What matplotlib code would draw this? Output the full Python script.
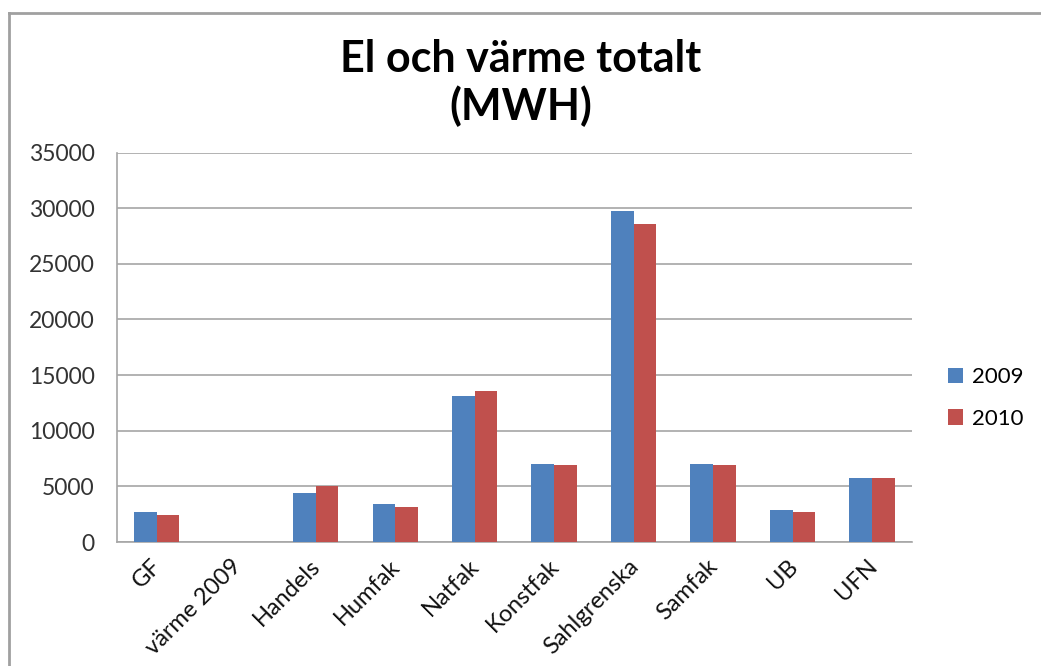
import matplotlib
matplotlib.use("Agg")
import matplotlib.pyplot as plt
from matplotlib.lines import Line2D
import numpy as np

plt.rcParams['font.family'] = ['Lato', 'DejaVu Sans']

categories = ["GF", "värme 2009", "Handels", "Humfak", "Natfak", "Konstfak",
              "Sahlgrenska", "Samfak", "UB", "UFN"]
vals_2009 = [2700, 0, 4400, 3450, 13100, 7050, 29750, 7000, 2850, 5800]
vals_2010 = [2450, 0, 5000, 3200, 13550, 6950, 28550, 6900, 2680, 5800]
series_names = ["2009", "2010"]

fig = plt.figure(figsize=(10.41, 6.66), dpi=100)
ax = fig.add_axes([0.1124, 0.186, 0.7636, 0.585])

x = np.arange(len(categories))
w = 0.2857
ax.bar(x - w / 2, vals_2009, w, color='#4f81bd', label=series_names[0], zorder=3)
ax.bar(x + w / 2, vals_2010, w, color='#c0504d', label=series_names[1], zorder=3)

ax.set_xlim(-0.5, len(categories) - 0.5)
ax.set_ylim(0, 35000)
ax.set_yticks(np.arange(0, 35001, 5000))
ax.yaxis.grid(True, color='#a6a6a6', linewidth=1.2, zorder=0)
for s in ['top', 'right']:
    ax.spines[s].set_visible(False)
ax.spines['left'].set_color('#a6a6a6')
ax.spines['bottom'].set_color('#a6a6a6')
ax.spines['left'].set_linewidth(1.2)
ax.spines['bottom'].set_linewidth(1.2)
ax.tick_params(axis='y', length=0, pad=16, labelsize=16.5, labelcolor='#333333')
ax.tick_params(axis='x', length=0, pad=14, labelsize=17, labelcolor='#111111')
ax.set_xticks(x)
ax.set_xticklabels(categories, rotation=45, ha='right', va='center_baseline',
                   rotation_mode='anchor')

fig.text(0.5, 0.942, "El och värme totalt\n(MWH)", ha='center', va='top',
         fontsize=31, fontweight='bold', linespacing=1.2)

ax.legend(loc='center left', bbox_to_anchor=(1.02, 0.37), frameon=False,
          fontsize=16, handlelength=0.7, handleheight=0.7, labelspacing=0.95,
          handletextpad=0.4)

# chart frame
fig.add_artist(Line2D([9 / 1041, 9 / 1041], [0, 1 - 13 / 666], color='#a0a0a0', lw=2))
fig.add_artist(Line2D([9 / 1041, 1], [1 - 13 / 666, 1 - 13 / 666], color='#a0a0a0', lw=2))

fig.savefig("out.png", dpi=100)
